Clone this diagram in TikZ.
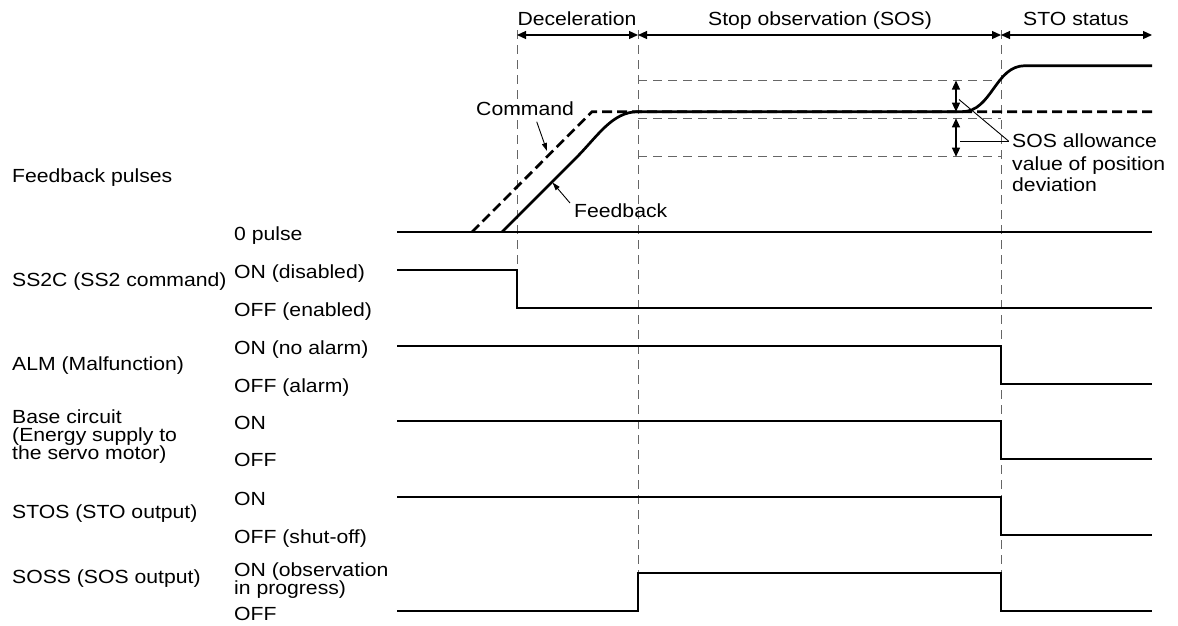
\documentclass[tikz,border=0pt]{standalone}
\usepackage{fontspec}
\setmainfont{Liberation Sans}[FakeStretch=1.115]
\usetikzlibrary{arrows.meta}
\begin{document}
\begin{tikzpicture}[x=1pt,y=-1pt,
  txt/.style={inner sep=0pt, anchor=base west, font=\fontsize{19}{22}\selectfont},
  ctxt/.style={inner sep=0pt, anchor=base, font=\fontsize{19}{22}\selectfont},
  sig/.style={line width=1.3pt, line join=miter},
  guide/.style={black!60, line width=1pt, dash pattern=on 9pt off 6pt},
  dim/.style={line width=1.2pt, {Triangle[length=9pt,width=8pt]}-{Triangle[length=9pt,width=8pt]}},
  lead/.style={line width=0.9pt},
  leadarrow/.style={line width=0.9pt, -{Triangle[length=8pt,width=5pt]}},
  cmdline/.style={line width=2.7pt, dash pattern=on 10pt off 5pt},
  fbline/.style={line width=2.7pt, line join=round}
]
\fill[white] (0,0) rectangle (1178,625);
\useasboundingbox (0,0) rectangle (1178,625);

% vertical time guides
\coordinate (g1t) at (517,30);  \coordinate (g1b) at (517,270);
\coordinate (g2t) at (638,30);  \coordinate (g2b) at (638,573);
\coordinate (g3t) at (1001,30); \coordinate (g3b) at (1001,573);
\draw[guide] (g1t) -- (g1b);
\draw[guide] (g2t) -- (g2b);
\draw[guide] (g3t) -- (g3b);

% phase arrows
\coordinate (p1) at (517,35); \coordinate (p2) at (638,35);
\coordinate (p3) at (1001,35); \coordinate (p4) at (1152,35);
\draw[dim] (p1) -- (p2);
\draw[dim] (p2) -- (p3);
\draw[dim] (p3) -- (p4);
\node[ctxt] (decel) at (577,25) {Deceleration};
\node[ctxt] (sos) at (820,25) {Stop observation (SOS)};
\node[ctxt] (sto) at (1076,25) {STO status};

% allowance dashed lines
\draw[guide] (638,80.5) -- (1001,80.5);
\draw[guide] (638,118.3) -- (1001,118.3);
\draw[guide] (638,156.7) -- (1001,156.7);

% command and feedback curves
\draw[cmdline] (472,232) -- (592,111.7) -- (1152,111.7);
\draw[fbline] (502,232) -- (575,159) .. controls (598,136) and (612,111.7) .. (638,111.7)
  -- (962,111.7) .. controls (992,111.7) and (995,65.7) .. (1025,65.7) -- (1152,65.7);

% allowance arrows
\coordinate (a1) at (956,80.5); \coordinate (a2) at (956,111.7);
\coordinate (a3) at (956,118.3); \coordinate (a4) at (956,156.7);
\draw[dim] (a1) -- (a2);
\draw[dim] (a3) -- (a4);

% allowance label
\node[txt] (al1) at (1012,147.7) {SOS allowance};
\node[txt] (al2) at (1012,170) {value of position};
\node[txt] (al3) at (1012,191.7) {deviation};
\coordinate (lk) at (1008.5,141);
\draw[lead] (lk) -- (959,99.5);
\draw[lead] (lk) -- (960,141);

% command / feedback labels
\node[txt] (cmd) at (476,115) {Command};
\node[txt] (fb) at (574,217.3) {Feedback};
\draw[leadarrow] (536.7,121.7) -- (547,151);
\draw[leadarrow] (570,203) -- (552.5,182.5);

% signal lines
\draw[sig] (397,232) -- (1152,232);
\draw[sig] (397,270) -- (517,270) -- (517,308) -- (1152,308);
\draw[sig] (397,346) -- (1001,346) -- (1001,384) -- (1152,384);
\draw[sig] (397,421) -- (1001,421) -- (1001,459) -- (1152,459);
\draw[sig] (397,497) -- (1001,497) -- (1001,535) -- (1152,535);
\draw[sig] (397,611) -- (638,611) -- (638,573) -- (1001,573) -- (1001,611) -- (1152,611);

% state labels
\node[txt] (s0) at (234,240) {0 pulse};
\node[txt] (s1) at (234,278.3) {ON (disabled)};
\node[txt] (s2) at (234,316) {OFF (enabled)};
\node[txt] (s3) at (234,354.3) {ON (no alarm)};
\node[txt] (s4) at (234,392.3) {OFF (alarm)};
\node[txt] (s5) at (234,429) {ON};
\node[txt] (s6) at (234,466.7) {OFF};
\node[txt] (s7) at (234,505.5) {ON};
\node[txt] (s8) at (234,543.3) {OFF (shut-off)};
\node[txt] (s9) at (234,576.7) {ON (observation};
\node[txt] (s10) at (234,594.7) {in progress)};
\node[txt] (s11) at (234,620) {OFF};

% signal names
\node[txt] (n0) at (12,182) {Feedback pulses};
\node[txt] (n1) at (12,286) {SS2C (SS2 command)};
\node[txt] (n2) at (12,370.7) {ALM (Malfunction)};
\node[txt] (n3a) at (12,423) {Base circuit};
\node[txt] (n3b) at (12,441) {(Energy supply to};
\node[txt] (n3c) at (12,459) {the servo motor)};
\node[txt] (n4) at (12,518.3) {STOS (STO output)};
\node[txt] (n5) at (12,583) {SOSS (SOS output)};
\end{tikzpicture}
\end{document}
